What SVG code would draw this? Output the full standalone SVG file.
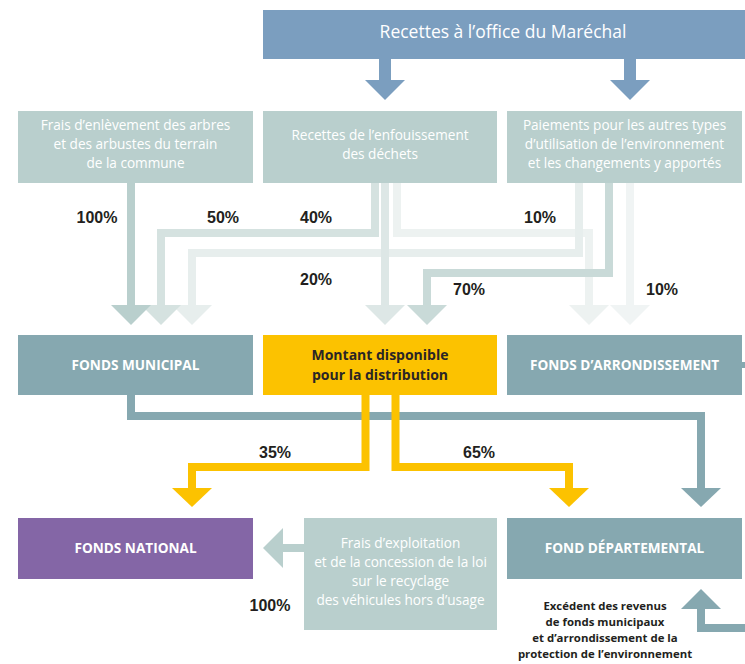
<svg xmlns="http://www.w3.org/2000/svg" width="745" height="664" viewBox="0 0 745 664">
<style>
.t{font-family:"Open Sans","Noto Sans","Liberation Sans",sans-serif;text-anchor:middle}
.w{fill:#ffffff;font-size:13.6px}
.b{font-weight:bold;font-size:13.6px;fill:#ffffff}
.d{font-weight:bold;font-size:14px;fill:#2a2526}
.e{font-weight:bold;font-size:11.4px;fill:#231f20}
.pct{font-family:"Liberation Sans",Arial,sans-serif;font-weight:bold;font-size:16px;fill:#231f20;text-anchor:middle}
.ln{fill:none;stroke-width:8;stroke-linejoin:miter;stroke-linecap:butt}
</style>
<rect width="745" height="664" fill="#ffffff"/>

<g id="connectors">
  <path d="M385,59 V80" fill="none" stroke="#7b9ebf" stroke-width="12"/>
  <polygon points="365,80 405,80 385,100" fill="#7b9ebf"/>
  <path d="M630,59 V80" fill="none" stroke="#7b9ebf" stroke-width="12"/>
  <polygon points="610,80 650,80 630,100" fill="#7b9ebf"/>

  <path class="ln" d="M630,183 V305" stroke="#f0f4f4"/>
  <polygon points="610,305 650,305 630,325" fill="#f0f4f4"/>
  <path class="ln" d="M397,183 V233 H589 V305" stroke="#edf2f1"/>
  <polygon points="569,305 609,305 589,325" fill="#edf2f1"/>
  <path class="ln" d="M579,183 V253 H192 V305" stroke="#e7eeed"/>
  <polygon points="172,305 212,305 192,325" fill="#e7eeed"/>
  <path class="ln" d="M385,183 V305" stroke="#dde7e6"/>
  <polygon points="365,305 405,305 385,325" fill="#dde7e6"/>
  <path class="ln" d="M375,183 V233 H161 V305" stroke="#d5e2e0"/>
  <polygon points="141,305 181,305 161,325" fill="#d5e2e0"/>
  <path class="ln" d="M609,183 V273 H427 V305" stroke="#c9dad8"/>
  <polygon points="407,305 447,305 427,325" fill="#c9dad8"/>
  <path class="ln" d="M131,183 V305" stroke="#b9cfcd"/>
  <polygon points="111,305 151,305 131,325" fill="#b9cfcd"/>

  <path class="ln" d="M131,395 V416 H701 V488" stroke="#86a8b0"/>
  <polygon points="681,488 721,488 701,507" fill="#86a8b0"/>
  <path class="ln" d="M365.5,395 V467 H192 V488" stroke="#fcc200"/>
  <polygon points="172,488 212,488 192,507" fill="#fcc200"/>
  <path class="ln" d="M395.5,395 V467 H569 V488" stroke="#fcc200"/>
  <polygon points="549,488 589,488 569,507" fill="#fcc200"/>
  <path class="ln" d="M304,548 H282" stroke="#b9cfcd"/>
  <polygon points="283,528 283,568 263,548" fill="#b9cfcd"/>
  <path class="ln" d="M745,628 H701 V609" stroke="#86a8b0"/>
  <polygon points="681,609 721,609 701,589" fill="#86a8b0"/>
  <path d="M742,365 H745" fill="none" stroke="#86a8b0" stroke-width="6"/>

  <text class="pct" x="97" y="223">100%</text>
  <text class="pct" x="223" y="223">50%</text>
  <text class="pct" x="316" y="223">40%</text>
  <text class="pct" x="316" y="285">20%</text>
  <text class="pct" x="540" y="223">10%</text>
  <text class="pct" x="469" y="295">70%</text>
  <text class="pct" x="662" y="295">10%</text>
  <text class="pct" x="275" y="458">35%</text>
  <text class="pct" x="479" y="458">65%</text>
  <text class="pct" x="270" y="611">100%</text>
</g>

<g id="marechal">
  <rect x="263" y="10" width="482" height="49" fill="#7b9ebf"/>
  <text class="t" x="503" y="38" fill="#ffffff" font-size="17.5">Recettes à l’office du Maréchal</text>
</g>

<g id="arbres">
  <rect x="18" y="111" width="235" height="72" fill="#b9cfcd"/>
  <text class="t w" x="135.5" y="130">Frais d’enlèvement des arbres</text>
  <text class="t w" x="135.5" y="149">et des arbustes du terrain</text>
  <text class="t w" x="135.5" y="168">de la commune</text>
</g>

<g id="enfouissement">
  <rect x="263" y="111" width="234" height="72" fill="#b9cfcd"/>
  <text class="t w" x="380" y="140">Recettes de l’enfouissement</text>
  <text class="t w" x="380" y="159">des déchets</text>
</g>

<g id="paiements">
  <rect x="507" y="111" width="235" height="72" fill="#b9cfcd"/>
  <text class="t w" x="624.5" y="130">Paiements pour les autres types</text>
  <text class="t w" x="624.5" y="149">d’utilisation de l’environnement</text>
  <text class="t w" x="624.5" y="168">et les changements y apportés</text>
</g>

<g id="municipal">
  <rect x="18" y="335" width="235" height="60" fill="#86a8b0"/>
  <text class="t b" x="135.5" y="370">FONDS MUNICIPAL</text>
</g>

<g id="montant">
  <rect x="263" y="335" width="234" height="60" fill="#fcc200"/>
  <text class="t d" x="380" y="360">Montant disponible</text>
  <text class="t d" x="380" y="380">pour la distribution</text>
</g>

<g id="arrondissement">
  <rect x="507" y="335" width="235" height="60" fill="#86a8b0"/>
  <text class="t b" x="624.5" y="370">FONDS D’ARRONDISSEMENT</text>
</g>

<g id="national">
  <rect x="18" y="518" width="235" height="61" fill="#8466a6"/>
  <text class="t b" x="135.5" y="553">FONDS NATIONAL</text>
</g>

<g id="exploitation">
  <rect x="304" y="518" width="193" height="112" fill="#b9cfcd"/>
  <text class="t w" x="400.5" y="548">Frais d’exploitation</text>
  <text class="t w" x="400.5" y="567">et de la concession de la loi</text>
  <text class="t w" x="400.5" y="586">sur le recyclage</text>
  <text class="t w" x="400.5" y="605">des véhicules hors d’usage</text>
</g>

<g id="departemental">
  <rect x="507" y="518" width="235" height="61" fill="#86a8b0"/>
  <text class="t b" x="624.5" y="553">FOND DÉPARTEMENTAL</text>
</g>

<g id="excedent">
  <text class="t e" x="605" y="610">Excédent des revenus</text>
  <text class="t e" x="605" y="626">de fonds municipaux</text>
  <text class="t e" x="605" y="642">et d’arrondissement de la</text>
  <text class="t e" x="605" y="658">protection de l’environnement</text>
</g>
</svg>
